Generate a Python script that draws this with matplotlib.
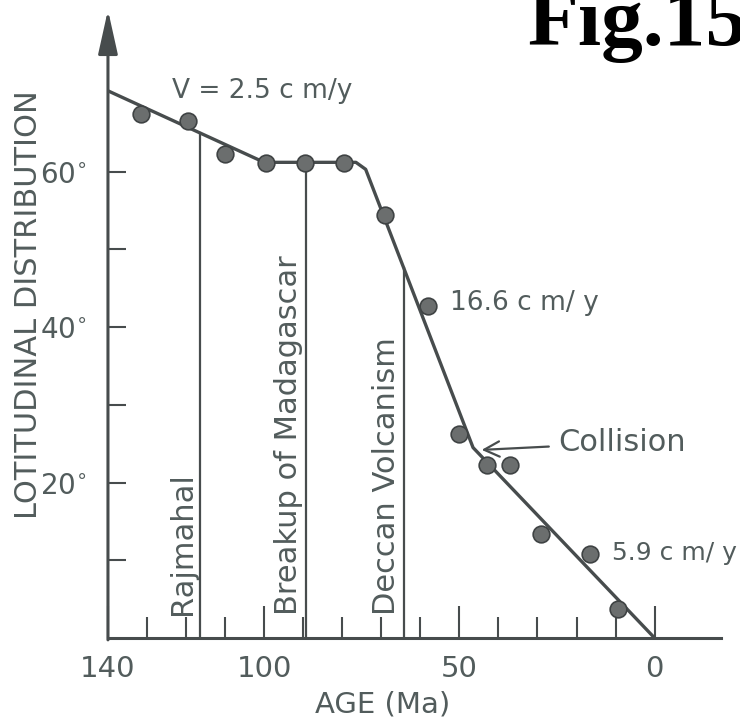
import numpy as np
import matplotlib.pyplot as plt

# palaeolatitude of India through time
age = [131.5, 119.5, 110, 99.5, 89.5, 79.5, 69, 58, 50, 43, 37, 29, 16.5, 9.5]
lat = [67.4, 66.5, 62.3, 61.1, 61.1, 61.1, 54.4, 42.7, 26.3, 22.3, 22.3, 13.4, 10.8, 3.7]

# piecewise velocity fit
fit_age = [140, 100, 76.5, 74, 46.5, 0]
fit_lat = [70.4, 61.2, 61.2, 60.3, 24.5, 0]

events = ['Rajmahal', 'Breakup of Madagascar', 'Deccan Volcanism']
event_age = [116.5, 89.3, 64.2]

rates = ['V = 2.5 c m/y', '16.6 c m/ y', '5.9 c m/ y']
rate_age = [123.6, 52.5, 11]
rate_lat = [70.4, 43.1, 10.9]

line_c = '#474c4d'
text_c = '#525c5c'

fig = plt.figure(figsize=(7.4, 7.24), dpi=100)
ax = fig.add_axes([0.1459, 0.1188, 0.8284, 0.8674])
ax.set_xlim(140, -17)
ax.set_ylim(0, 80.8)

ax.plot(fit_age, fit_lat, color=line_c, lw=2.4, zorder=3)
ax.plot(age, lat, 'o', ms=12, mfc='#6b6e6e', mec='#3f4344', mew=1.2, zorder=4)

# event lines run from the axis up to the fitted curve
fit_a = np.array(fit_age[::-1])
fit_l = np.array(fit_lat[::-1])
for name, a in zip(events, event_age):
    top = np.interp(a, fit_a, fit_l)
    ax.plot([a, a], [0, top], color=line_c, lw=1.6, zorder=2)
    ax.text(a + 4.5, 3.0, name, rotation=90, ha='center', va='bottom',
            fontsize=22, color=text_c)

sizes = [19, 19, 18]
for s, a, l, fs in zip(rates, rate_age, rate_lat, sizes):
    ax.text(a, l, s, ha='left', va='center', fontsize=fs, color=text_c)

ax.annotate('Collision', xy=(44.3, 24.2), xytext=(24.6, 25.1),
            ha='left', va='center', fontsize=22, color=text_c,
            arrowprops=dict(arrowstyle='->, head_length=0.5, head_width=0.25',
                            color=line_c, lw=1.6, shrinkA=5, shrinkB=0,
                            mutation_scale=22))

# axes styling
for s in ['top', 'right', 'left']:
    ax.spines[s].set_visible(False)
ax.spines['bottom'].set_color(line_c)
ax.spines['bottom'].set_linewidth(2.2)
ax.annotate('', xy=(0, 1), xycoords='axes fraction', xytext=(0, -0.003),
            arrowprops=dict(arrowstyle='-|>, head_length=0.9, head_width=0.2',
                            color=line_c, lw=2.2, mutation_scale=30,
                            shrinkA=0, shrinkB=0))

ax.set_xticks([140, 100, 50, 0])
ax.set_xticklabels(['140', '100', '50', '0'])
ax.set_xticks(np.arange(130, -1, -10), minor=True)
ax.tick_params(axis='x', which='major', direction='in', length=23, width=1.5,
               color=line_c, labelsize=21, labelcolor=text_c, pad=12)
ax.tick_params(axis='x', which='minor', direction='in', length=15, width=1.5,
               color=line_c)

ax.set_yticks([20, 40, 60])
ax.set_yticklabels([r'20$^{\circ}$', r'40$^{\circ}$', r'60$^{\circ}$'])
ax.set_yticks([10, 30, 50], minor=True)
ax.tick_params(axis='y', which='both', direction='in', length=13, width=1.5,
               color=line_c, labelsize=20, labelcolor=text_c, pad=15)

fig.text(29 / 740, 1 - 305 / 724, 'LOTITUDINAL DISTRIBUTION', rotation=90,
         ha='center', va='center', fontsize=22, color=text_c)
fig.text(383 / 740, 1 - 705 / 724, 'AGE (Ma)', ha='center', va='center',
         fontsize=21, color=text_c)
fig.text(528 / 740, 1 - 45 / 724, 'Fig.15', ha='left', va='baseline',
         fontsize=60, fontweight='bold', family='Liberation Serif', color='black')

fig.savefig('out.png', dpi=100)
